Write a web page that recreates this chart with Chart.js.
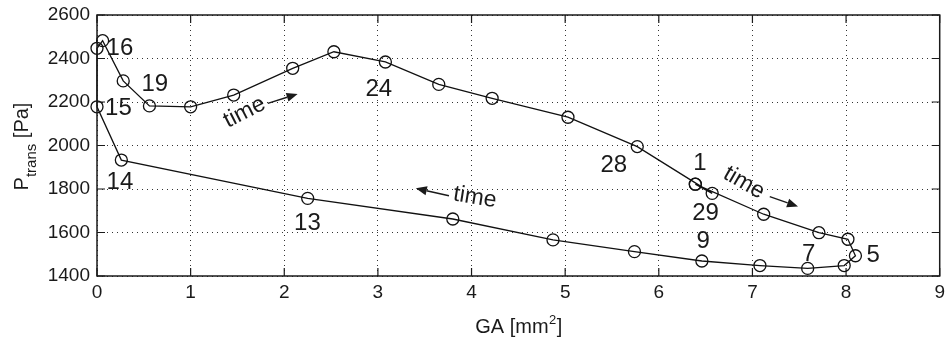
<!DOCTYPE html>
<html><head><meta charset="utf-8">
<script src="https://cdn.jsdelivr.net/npm/chart.js@4"></script>
<style>html,body{margin:0;padding:0;background:#fff}canvas{display:block}</style>
</head><body>
<canvas id="c" width="947" height="338"></canvas>
<script>
// Series in time order (sample 1 .. 29), the loop closes back to sample 1
const gaX    = [6.39, 7.12, 7.71, 8.02, 8.10, 7.98, 7.59, 7.08, 6.46, 5.74, 4.87, 3.80, 2.25, 0.26, 0.00, 0.00, 0.06, 0.28, 0.56, 1.00, 1.46, 2.09, 2.53, 3.08, 3.65, 4.22, 5.03, 5.77, 6.57];
const pTrans = [1822, 1684, 1599, 1569, 1493, 1448, 1435, 1448, 1469, 1512, 1566, 1662, 1757, 1933, 2178, 2447, 2482, 2297, 2182, 2178, 2232, 2355, 2431, 2384, 2281, 2217, 2130, 1995, 1780];

const xTicks = [0, 1, 2, 3, 4, 5, 6, 7, 8, 9];
const yTicks = [1400, 1600, 1800, 2000, 2200, 2400, 2600];

// Sample-number annotations (data coordinates)
const numLabels = ['16', '19', '15', '14', '13', '24', '28', '1', '29', '9', '7', '5'];
const numX = [0.245, 0.618, 0.229, 0.245, 2.247, 3.01, 5.52, 6.44, 6.50, 6.475, 7.60, 8.29];
const numY = [2446, 2283, 2172, 1830, 1640, 2260, 1910, 1917, 1687, 1561, 1501, 1497];

// "time" annotations and arrows (data coordinates)
const timeX = [1.576, 4.036, 6.91];
const timeY = [2152, 1761, 1828];
const timeAngle = [-27, 9, 30];
const arrowFromX = [1.824, 3.759, 7.185];
const arrowFromY = [2194, 1769, 1765];
const arrowToX = [2.143, 3.405, 7.487];
const arrowToY = [2237, 1803, 1719];

const FONT = '"Liberation Sans", Arial, Helvetica, sans-serif';
const INK = '#1a1a1a';

function arrow(ctx, x1, y1, x2, y2) {
  const ang = Math.atan2(y2 - y1, x2 - x1);
  const hl = 11, hw = 4.5;
  const bx = x2 - hl * Math.cos(ang), by = y2 - hl * Math.sin(ang);
  ctx.beginPath();
  ctx.moveTo(x1, y1);
  ctx.lineTo(bx, by);
  ctx.stroke();
  ctx.beginPath();
  ctx.moveTo(x2, y2);
  ctx.lineTo(bx + hw * Math.sin(ang), by - hw * Math.cos(ang));
  ctx.lineTo(bx - hw * Math.sin(ang), by + hw * Math.cos(ang));
  ctx.closePath();
  ctx.fill();
}

const overlay = {
  id: 'overlay',
  afterDraw(chart) {
    const ctx = chart.ctx, a = chart.chartArea, sx = chart.scales.x, sy = chart.scales.y;
    ctx.save();
    ctx.setLineDash([]);
    ctx.strokeStyle = INK;
    ctx.fillStyle = INK;
    // frame
    ctx.lineWidth = 1.5;
    ctx.strokeRect(a.left, a.top, a.right - a.left, a.bottom - a.top);
    // inward tick marks
    ctx.lineWidth = 1.2;
    ctx.beginPath();
    xTicks.forEach(v => {
      const p = sx.getPixelForValue(v);
      ctx.moveTo(p, a.bottom); ctx.lineTo(p, a.bottom - 8);
      ctx.moveTo(p, a.top); ctx.lineTo(p, a.top + 8);
    });
    yTicks.forEach(v => {
      const p = sy.getPixelForValue(v);
      ctx.moveTo(a.left, p); ctx.lineTo(a.left + 8, p);
      ctx.moveTo(a.right, p); ctx.lineTo(a.right - 8, p);
    });
    ctx.stroke();
    // sample numbers
    ctx.textAlign = 'center';
    ctx.textBaseline = 'middle';
    ctx.font = '24px ' + FONT;
    numLabels.forEach((t, i) => ctx.fillText(t, sx.getPixelForValue(numX[i]), sy.getPixelForValue(numY[i])));
    // "time" texts
    ctx.font = '23px ' + FONT;
    timeX.forEach((v, i) => {
      ctx.save();
      ctx.translate(sx.getPixelForValue(v), sy.getPixelForValue(timeY[i]));
      ctx.rotate(timeAngle[i] * Math.PI / 180);
      ctx.fillText('time', 0, 0);
      ctx.restore();
    });
    // arrows
    ctx.lineWidth = 1.4;
    arrowFromX.forEach((v, i) => arrow(ctx,
      sx.getPixelForValue(v), sy.getPixelForValue(arrowFromY[i]),
      sx.getPixelForValue(arrowToX[i]), sy.getPixelForValue(arrowToY[i])));
    // x axis title: GA [mm^2]
    ctx.textAlign = 'left';
    ctx.textBaseline = 'alphabetic';
    const big = '20px ' + FONT, sup = '13px ' + FONT;
    ctx.font = big; const w1 = ctx.measureText('GA [mm').width, w3 = ctx.measureText(']').width;
    ctx.font = sup; const w2 = ctx.measureText('2').width;
    let xs = (a.left + a.right) / 2 - (w1 + w2 + w3) / 2;
    const by = 333;
    ctx.font = big; ctx.fillText('GA [mm', xs, by);
    ctx.font = sup; ctx.fillText('2', xs + w1 + 0.5, by - 9);
    ctx.font = big; ctx.fillText(']', xs + w1 + w2 + 1, by);
    // y axis title: P_trans [Pa]
    ctx.font = big; const p1 = ctx.measureText('P').width, p3 = ctx.measureText(' [Pa]').width;
    const subF = '15px ' + FONT;
    ctx.font = subF; const p2 = ctx.measureText('trans').width;
    ctx.save();
    ctx.translate(28, (a.top + a.bottom) / 2 + 1);
    ctx.rotate(-Math.PI / 2);
    let u = -(p1 + p2 + p3) / 2;
    ctx.font = big; ctx.fillText('P', u, 0);
    ctx.font = subF; ctx.fillText('trans', u + p1, 8);
    ctx.font = big; ctx.fillText(' [Pa]', u + p1 + p2, 0);
    ctx.restore();
    ctx.restore();
  }
};

const pts = gaX.map((v, i) => ({x: v, y: pTrans[i]}));
pts.push({x: gaX[0], y: pTrans[0]});

new Chart(document.getElementById('c'), {
  type: 'scatter',
  data: {
    datasets: [{
      data: pts,
      showLine: true,
      tension: 0,
      borderColor: '#111',
      borderWidth: 1.3,
      pointRadius: 6,
      pointHoverRadius: 6,
      pointBorderWidth: 1.3,
      pointBorderColor: '#111',
      pointBackgroundColor: 'rgba(0,0,0,0)',
      clip: false
    }]
  },
  options: {
    responsive: false,
    animation: false,
    events: [],
    layout: {padding: {left: 0, top: 15, right: 5, bottom: 0}},
    plugins: {legend: {display: false}, tooltip: {enabled: false}},
    scales: {
      x: {
        type: 'linear', min: 0, max: 9,
        afterBuildTicks: s => { s.ticks = xTicks.map(v => ({value: v})); },
        afterFit: s => { s.height = 62; s.paddingLeft = 0; s.paddingRight = 0; },
        ticks: {color: INK, font: {family: FONT, size: 19}, padding: 5, maxRotation: 0, autoSkip: false,
                callback: v => String(v)},
        grid: {color: '#333', lineWidth: 1, drawTicks: false},
        border: {display: false, dash: [1, 4]}
      },
      y: {
        type: 'linear', min: 1400, max: 2600,
        afterBuildTicks: s => { s.ticks = yTicks.map(v => ({value: v})); },
        afterFit: s => { s.width = 97; s.paddingTop = 0; s.paddingBottom = 0; },
        ticks: {color: INK, font: {family: FONT, size: 19}, padding: 7, autoSkip: false,
                callback: v => String(v)},
        grid: {color: '#333', lineWidth: 1, drawTicks: false},
        border: {display: false, dash: [1, 4]}
      }
    }
  },
  plugins: [overlay]
});
</script>
</body></html>
